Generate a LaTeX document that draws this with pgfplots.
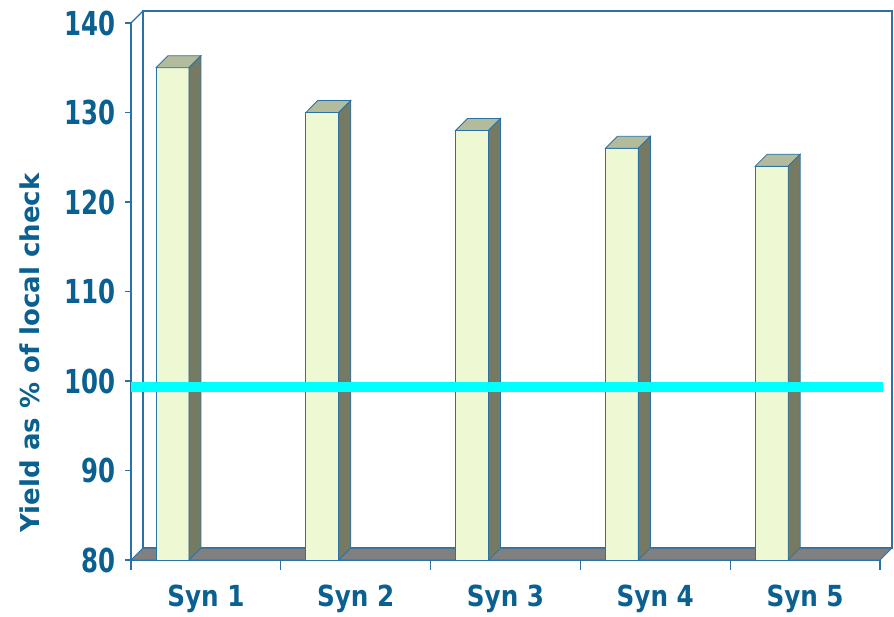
\documentclass[border=0pt]{standalone}
\usepackage{fontspec}
\setmainfont{DejaVu Sans}
\newfontfamily\tickfont{DejaVu Sans}[FakeStretch=0.74]
\newfontfamily\labfont{DejaVu Sans}[FakeStretch=0.85]
\usepackage{pgfplots}
\pgfplotsset{compat=1.18}
\definecolor{txt}{HTML}{0A6090}
\definecolor{axc}{HTML}{2A72A6}
\definecolor{frontc}{HTML}{EEF8D3}
\definecolor{topc}{HTML}{B2BB9C}
\definecolor{sidec}{HTML}{777A63}
\definecolor{floorc}{HTML}{808080}
% #1 x0, #2 x1, #3 x0 back, #4 x1 back, #5 value, #6 value back
\newcommand{\drawbar}[6]{%
  \addplot[fill=frontc, draw=axc, line width=0.8pt] coordinates {(#1,80) (#2,80) (#2,#5) (#1,#5)} -- cycle;
  \addplot[fill=topc, draw=axc, line width=0.8pt] coordinates {(#1,#5) (#2,#5) (#4,#6) (#3,#6)} -- cycle;
  \addplot[fill=sidec, draw=axc, line width=0.8pt] coordinates {(#2,80) (#4,81.34) (#4,#6) (#2,#5)} -- cycle;
}
\begin{document}
\begin{tikzpicture}
\path[use as bounding box] (-131pt,-56pt) rectangle (763pt,560pt);
\begin{axis}[
  scale only axis, width=749pt, height=537pt,
  xmin=0, xmax=5, ymin=80, ymax=140, clip=false,
  axis lines=left, axis line style={-, draw=axc, line width=1.4pt},
  every tick/.style={draw=axc, line width=1.4pt},
  tick align=outside, major tick length=6pt, minor tick length=10pt,
  ytick={80,90,...,140},
  xtick={0.5,1.5,2.5,3.5,4.5},
  xticklabels={Syn 1,Syn 2,Syn 3,Syn 4,Syn 5},
  major x tick style={draw=none},
  minor xtick={0,1,2,3,4,5},
  /pgf/number format/assume math mode=true,
  yticklabel style={font=\tickfont\bfseries\fontsize{33}{33}\selectfont, text=txt, inner sep=0pt, xshift=-9pt},
  xticklabel style={font=\labfont\bfseries\fontsize{29}{29}\selectfont, text=txt, inner sep=0pt, yshift=-19pt},
  ylabel={Yield as \% of local check},
  ylabel style={at={(axis description cs:-0.135,0.385)}, anchor=center, rotate=0,
    font=\bfseries\fontsize{26}{26}\selectfont, text=txt},
]
% back wall
\addplot[fill=white, draw=axc, line width=1.4pt] coordinates {(0.08,81.34) (0.08,141.34) (5.08,141.34) (5.08,81.34)} -- cycle;
\addplot[draw=axc, line width=1.4pt] coordinates {(0,140) (0.08,141.34)};
% floor
\addplot[fill=floorc, draw=axc, line width=1pt] coordinates {(0,80) (5,80) (5.08,81.34) (0.08,81.34)} -- cycle;
% bars
\drawbar{0.167}{0.387}{0.247}{0.467}{135}{136.34}
\drawbar{1.167}{1.387}{1.247}{1.467}{130}{131.34}
\drawbar{2.167}{2.387}{2.247}{2.467}{128}{129.34}
\drawbar{3.167}{3.387}{3.247}{3.467}{126}{127.34}
\drawbar{4.167}{4.387}{4.247}{4.467}{124}{125.34}
% reference line
\addplot[draw={rgb,1:red,0;green,1;blue,1}, line width=10pt] coordinates {(0,99.35) (5.02,99.35)};
\end{axis}
\end{tikzpicture}
\end{document}
